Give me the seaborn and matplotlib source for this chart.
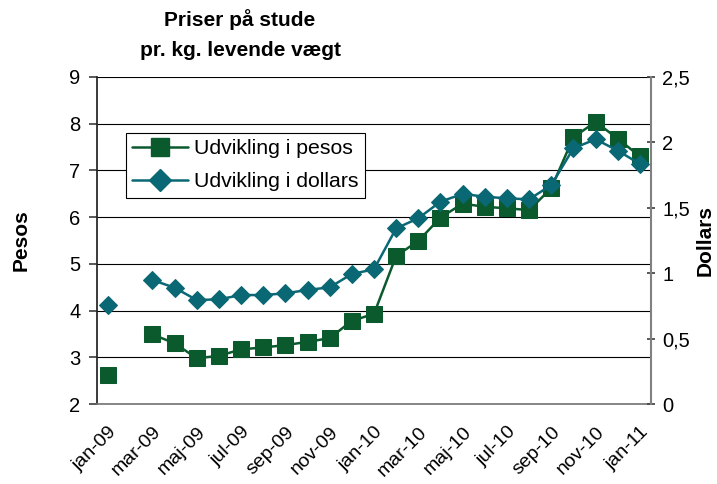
import seaborn as sns
import matplotlib.pyplot as plt
import numpy as np
import pandas as pd
from matplotlib.lines import Line2D

# Months jan-09 .. jan-11 (feb-09 missing in source)
maaneder = ['jan-09', 'feb-09', 'mar-09', 'apr-09', 'maj-09', 'jun-09', 'jul-09',
            'aug-09', 'sep-09', 'okt-09', 'nov-09', 'dec-09', 'jan-10', 'feb-10',
            'mar-10', 'apr-10', 'maj-10', 'jun-10', 'jul-10', 'aug-10', 'sep-10',
            'okt-10', 'nov-10', 'dec-10', 'jan-11']

pesos = [2.62, np.nan, 3.49, 3.30, 2.98, 3.03, 3.17, 3.21, 3.26, 3.33, 3.41, 3.78,
         3.93, 5.17, 5.49, 5.99, 6.29, 6.22, 6.19, 6.15, 6.62, 7.71, 8.04, 7.68, 7.30]

dollars = [0.757, np.nan, 0.948, 0.889, 0.795, 0.80, 0.833, 0.833, 0.846, 0.872,
           0.892, 0.994, 1.03, 1.343, 1.42, 1.547, 1.606, 1.585, 1.572, 1.565,
           1.674, 1.955, 2.024, 1.937, 1.835]

green = '#0b5a2e'
teal = '#0a6874'

sns.set_theme(style='white')
plt.rcParams['font.family'] = ['Liberation Sans', 'DejaVu Sans']
plt.rcParams['text.color'] = 'black'
plt.rcParams['xtick.color'] = 'black'
plt.rcParams['ytick.color'] = 'black'
plt.rcParams['axes.labelcolor'] = 'black'

df = pd.DataFrame({'pos': np.arange(len(maaneder)), 'pesos': pesos, 'dollars': dollars})
# split into segments so the gap at feb-09 stays open
df['seg'] = df['pesos'].isna().cumsum()
df = df.dropna()

fig = plt.figure(figsize=(7.17, 4.84), dpi=100)
ax = fig.add_axes([97 / 717, 1 - 404 / 484, (651 - 97) / 717, (404 - 77) / 484])
ax2 = ax.twinx()

sns.lineplot(data=df, x='pos', y='pesos', units='seg', estimator=None, ax=ax,
             color=green, marker='s', markersize=11, linewidth=1.8,
             markeredgecolor=green, legend=False)
sns.lineplot(data=df, x='pos', y='dollars', units='seg', estimator=None, ax=ax2,
             color=teal, marker='D', markersize=9, linewidth=1.8,
             markeredgecolor=teal, legend=False)

ax.set_xlim(-0.5, len(maaneder) - 0.5)
ax.set_ylim(2, 9)
ax2.set_ylim(0, 2.5)
ax.set_yticks(range(2, 10))
ax.set_yticklabels([str(v) for v in range(2, 10)], fontsize=14.5)
ax2.set_yticks([0, 0.5, 1, 1.5, 2, 2.5])
ax2.set_yticklabels(['0', '0,5', '1', '1,5', '2', '2,5'], fontsize=14.5)

ax.yaxis.grid(True, color='black', linewidth=0.8)
ax.set_axisbelow(True)

ax.set_xticks(range(0, len(maaneder), 2))
ax.set_xticklabels(maaneder[::2], rotation=45, ha='right', rotation_mode='anchor', fontsize=14)
ax.set_xticks(np.arange(-0.5, len(maaneder)), minor=True)
ax.tick_params(axis='x', which='major', length=0, pad=14)
ax.tick_params(axis='x', which='minor', length=6, color='#555555', direction='out')
ax.tick_params(axis='y', length=6, color='#444444', direction='out', left=True, pad=6)
ax2.tick_params(axis='y', length=6, color='#444444', direction='inout', right=True, pad=5)

for side in ['top']:
    ax.spines[side].set_visible(False)
    ax2.spines[side].set_visible(False)
ax.spines['right'].set_visible(False)
ax2.spines['left'].set_visible(False)
ax.spines['left'].set_color('#222222')
ax.spines['bottom'].set_color('#777777')
ax2.spines['bottom'].set_visible(False)
ax2.spines['right'].set_color('#808080')
ax2.spines['right'].set_linewidth(1.5)

ax.set_xlabel('')
ax.set_ylabel('Pesos', fontsize=15, fontweight='bold', labelpad=28)
ax2.set_ylabel('Dollars', fontsize=15, fontweight='bold', labelpad=4)

fig.text(240 / 717, 1 - 20 / 484, 'Priser på stude', ha='center', va='center',
         fontsize=15, fontweight='bold')
fig.text(240 / 717, 1 - 50 / 484, 'pr. kg. levende vægt', ha='center', va='center',
         fontsize=15, fontweight='bold')

handles = [Line2D([], [], color=green, marker='s', markersize=13, linewidth=1.8),
           Line2D([], [], color=teal, marker='D', markersize=11, linewidth=1.8)]
leg = ax2.legend(handles, ['Udvikling i pesos', 'Udvikling i dollars'],
                 loc='upper left', bbox_to_anchor=(29 / 554, 1 - 56 / 327),
                 fontsize=15.3, frameon=True, fancybox=False, edgecolor='black',
                 framealpha=1, borderpad=0.3, handlelength=2.6, handletextpad=0.3,
                 labelspacing=0.65, borderaxespad=0)
leg.get_frame().set_linewidth(0.8)

fig.savefig('out.png', dpi=100)
